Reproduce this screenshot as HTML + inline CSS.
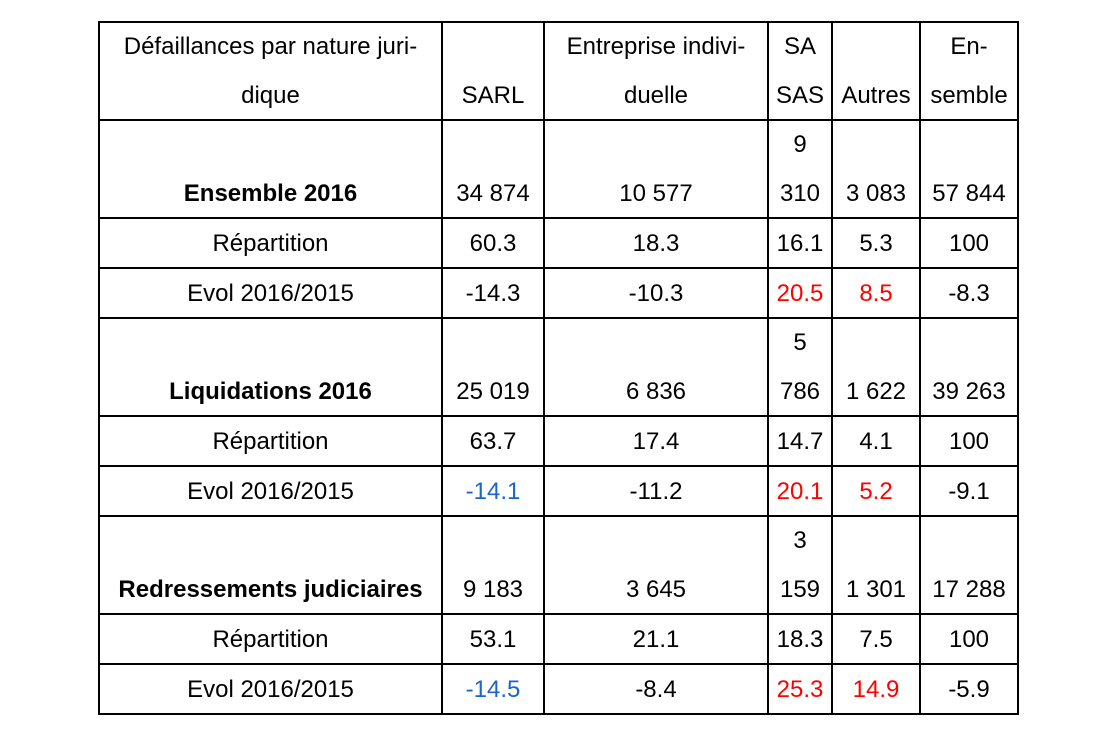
<!DOCTYPE html>
<html><head><meta charset="utf-8"><style>
body{margin:0;background:#fff;width:1112px;height:740px;position:relative;overflow:hidden;font-family:"Liberation Sans",Arial,sans-serif;font-size:24px;color:#000}
.h{position:absolute;height:2px;background:#000;left:98px;width:921px}
.v{position:absolute;width:2px;background:#000;top:21px;height:694px}
.t{position:absolute;text-align:center;white-space:nowrap;line-height:49px;height:49px}
b{font-weight:bold}
.r{color:#ff0000}.bl{color:#1a66cc}
</style></head><body>
<div class="h" style="top:21px"></div>
<div class="h" style="top:119px"></div>
<div class="h" style="top:217px"></div>
<div class="h" style="top:267px"></div>
<div class="h" style="top:317px"></div>
<div class="h" style="top:415px"></div>
<div class="h" style="top:465px"></div>
<div class="h" style="top:515px"></div>
<div class="h" style="top:613px"></div>
<div class="h" style="top:663px"></div>
<div class="h" style="top:713px"></div>
<div class="v" style="left:98px"></div>
<div class="v" style="left:441px"></div>
<div class="v" style="left:543px"></div>
<div class="v" style="left:767px"></div>
<div class="v" style="left:831px"></div>
<div class="v" style="left:919px"></div>
<div class="v" style="left:1017px"></div>

<div class="t" style="left:100px;width:341px;top:22px">Défaillances par nature juri-</div>
<div class="t" style="left:100px;width:341px;top:71px">dique</div>
<div class="t" style="left:443px;width:100px;top:71px">SARL</div>
<div class="t" style="left:545px;width:222px;top:22px">Entreprise indivi-</div>
<div class="t" style="left:545px;width:222px;top:71px">duelle</div>
<div class="t" style="left:769px;width:62px;top:22px">SA</div>
<div class="t" style="left:769px;width:62px;top:71px">SAS</div>
<div class="t" style="left:833px;width:86px;top:71px">Autres</div>
<div class="t" style="left:921px;width:96px;top:22px">En-</div>
<div class="t" style="left:921px;width:96px;top:71px">semble</div>

<div class="t" style="left:769px;width:62px;top:120px">9</div>
<div class="t" style="left:100px;width:341px;top:169px"><b>Ensemble 2016</b></div>
<div class="t" style="left:443px;width:100px;top:169px">34 874</div>
<div class="t" style="left:545px;width:222px;top:169px">10 577</div>
<div class="t" style="left:769px;width:62px;top:169px">310</div>
<div class="t" style="left:833px;width:86px;top:169px">3 083</div>
<div class="t" style="left:921px;width:96px;top:169px">57 844</div>
<div class="t" style="left:100px;width:341px;top:219px">Répartition</div>
<div class="t" style="left:443px;width:100px;top:219px">60.3</div>
<div class="t" style="left:545px;width:222px;top:219px">18.3</div>
<div class="t" style="left:769px;width:62px;top:219px">16.1</div>
<div class="t" style="left:833px;width:86px;top:219px">5.3</div>
<div class="t" style="left:921px;width:96px;top:219px">100</div>
<div class="t" style="left:100px;width:341px;top:269px">Evol 2016/2015</div>
<div class="t" style="left:443px;width:100px;top:269px">-14.3</div>
<div class="t" style="left:545px;width:222px;top:269px">-10.3</div>
<div class="t r" style="left:769px;width:62px;top:269px">20.5</div>
<div class="t r" style="left:833px;width:86px;top:269px">8.5</div>
<div class="t" style="left:921px;width:96px;top:269px">-8.3</div>

<div class="t" style="left:769px;width:62px;top:318px">5</div>
<div class="t" style="left:100px;width:341px;top:367px"><b>Liquidations 2016</b></div>
<div class="t" style="left:443px;width:100px;top:367px">25 019</div>
<div class="t" style="left:545px;width:222px;top:367px">6 836</div>
<div class="t" style="left:769px;width:62px;top:367px">786</div>
<div class="t" style="left:833px;width:86px;top:367px">1 622</div>
<div class="t" style="left:921px;width:96px;top:367px">39 263</div>
<div class="t" style="left:100px;width:341px;top:417px">Répartition</div>
<div class="t" style="left:443px;width:100px;top:417px">63.7</div>
<div class="t" style="left:545px;width:222px;top:417px">17.4</div>
<div class="t" style="left:769px;width:62px;top:417px">14.7</div>
<div class="t" style="left:833px;width:86px;top:417px">4.1</div>
<div class="t" style="left:921px;width:96px;top:417px">100</div>
<div class="t" style="left:100px;width:341px;top:467px">Evol 2016/2015</div>
<div class="t bl" style="left:443px;width:100px;top:467px">-14.1</div>
<div class="t" style="left:545px;width:222px;top:467px">-11.2</div>
<div class="t r" style="left:769px;width:62px;top:467px">20.1</div>
<div class="t r" style="left:833px;width:86px;top:467px">5.2</div>
<div class="t" style="left:921px;width:96px;top:467px">-9.1</div>

<div class="t" style="left:769px;width:62px;top:516px">3</div>
<div class="t" style="left:100px;width:341px;top:565px"><b>Redressements judiciaires</b></div>
<div class="t" style="left:443px;width:100px;top:565px">9 183</div>
<div class="t" style="left:545px;width:222px;top:565px">3 645</div>
<div class="t" style="left:769px;width:62px;top:565px">159</div>
<div class="t" style="left:833px;width:86px;top:565px">1 301</div>
<div class="t" style="left:921px;width:96px;top:565px">17 288</div>
<div class="t" style="left:100px;width:341px;top:615px">Répartition</div>
<div class="t" style="left:443px;width:100px;top:615px">53.1</div>
<div class="t" style="left:545px;width:222px;top:615px">21.1</div>
<div class="t" style="left:769px;width:62px;top:615px">18.3</div>
<div class="t" style="left:833px;width:86px;top:615px">7.5</div>
<div class="t" style="left:921px;width:96px;top:615px">100</div>
<div class="t" style="left:100px;width:341px;top:665px">Evol 2016/2015</div>
<div class="t bl" style="left:443px;width:100px;top:665px">-14.5</div>
<div class="t" style="left:545px;width:222px;top:665px">-8.4</div>
<div class="t r" style="left:769px;width:62px;top:665px">25.3</div>
<div class="t r" style="left:833px;width:86px;top:665px">14.9</div>
<div class="t" style="left:921px;width:96px;top:665px">-5.9</div>
</body></html>
